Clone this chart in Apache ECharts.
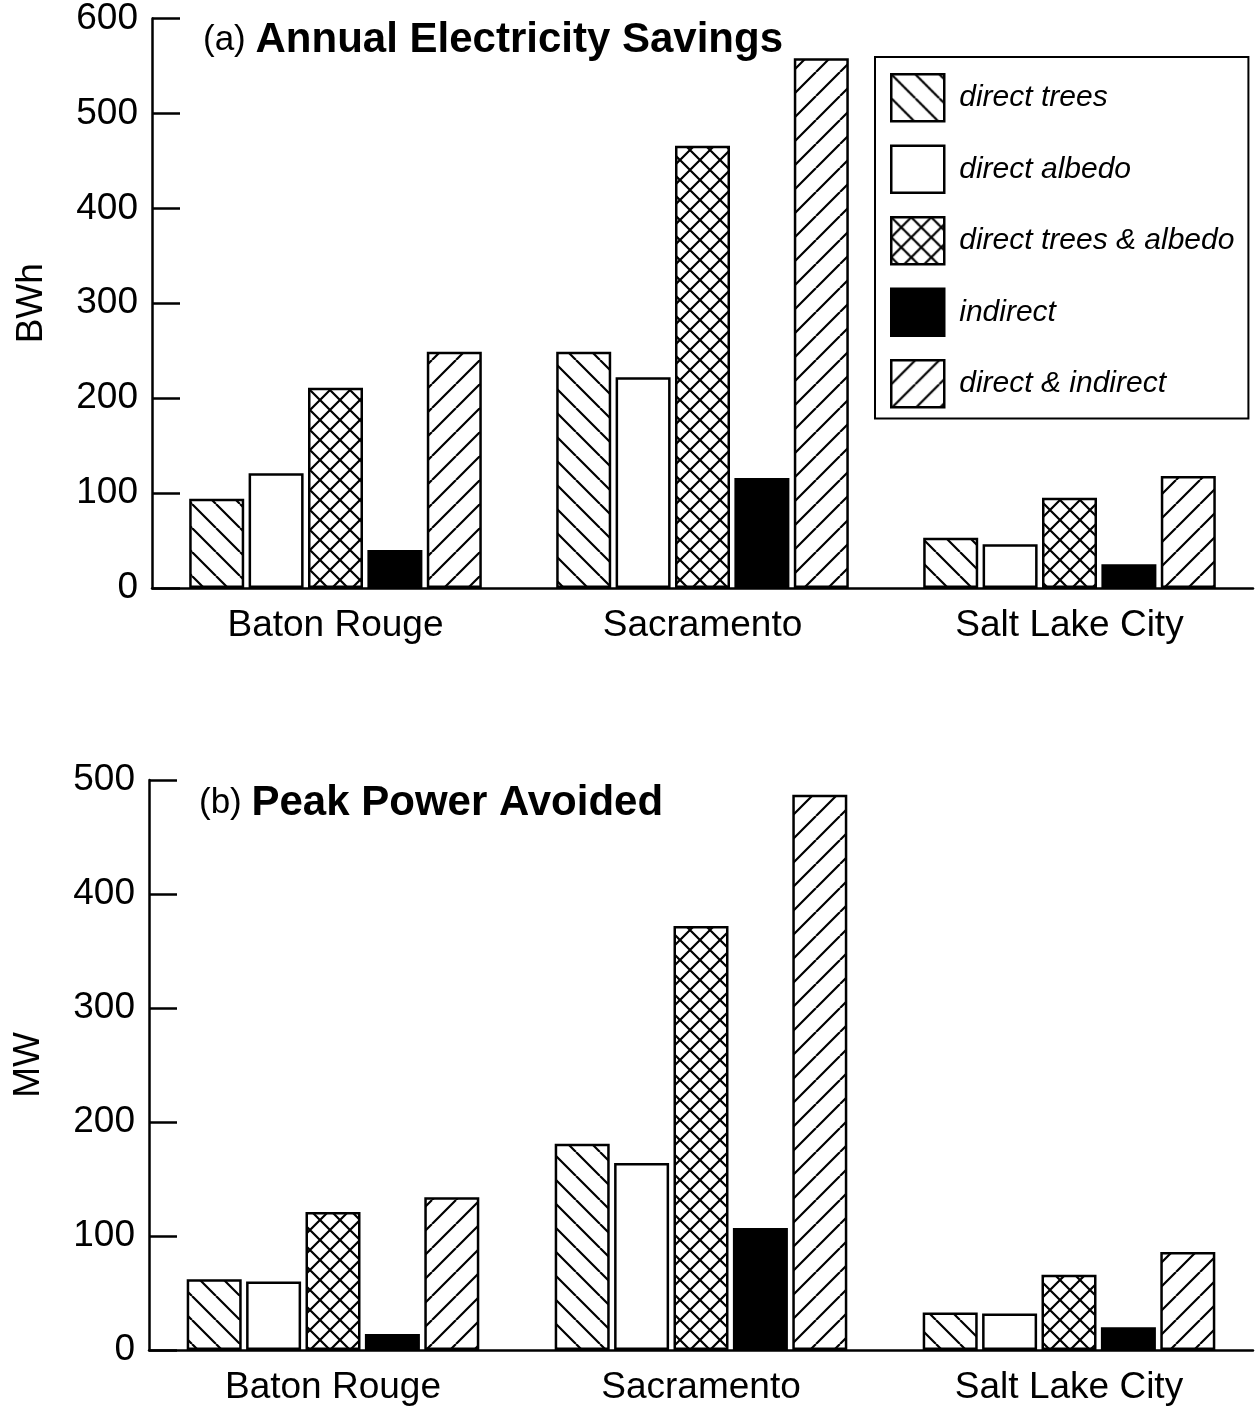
<!DOCTYPE html>
<html>
<head>
<meta charset="utf-8">
<script src="https://cdn.jsdelivr.net/npm/echarts@6/dist/echarts.min.js"></script>
<style>
html,body{margin:0;padding:0;background:#fff;}
#chart{width:1256px;height:1407px;}
</style>
</head>
<body>
<div id="chart"></div>
<script>
const categories = ['Baton Rouge', 'Sacramento', 'Salt Lake City'];
const seriesNames = ['direct trees', 'direct albedo', 'direct trees & albedo', 'indirect', 'direct & indirect'];

// (a) Annual Electricity Savings, BWh
const energyTrees = [94, 249, 53];
const energyAlbedo = [121, 222, 46];
const energyTreesAlbedo = [211, 466, 95];
const energyIndirect = [40, 116, 25];
const energyTotal = [249, 558, 118];

// (b) Peak Power Avoided, MW
const peakTrees = [62, 181, 33];
const peakAlbedo = [60, 164, 32];
const peakTreesAlbedo = [121, 372, 66];
const peakIndirect = [14, 107, 20];
const peakTotal = [134, 487, 86];

const energyAxis = { min: 0, max: 600, interval: 100, name: 'BWh' };
const peakAxis = { min: 0, max: 500, interval: 100, name: 'MW' };

function makePattern(kind) {
  const s = kind === 'cross' ? 20 : 24;
  const c = document.createElement('canvas');
  c.width = s; c.height = s;
  const g = c.getContext('2d');
  g.fillStyle = '#fff';
  g.fillRect(0, 0, s, s);
  g.strokeStyle = '#000';
  g.lineWidth = 2.2;
  g.beginPath();
  for (let k = -1; k <= 1; k++) {
    if (kind === 'back' || kind === 'cross') {
      g.moveTo(k * s, 0); g.lineTo(k * s + s, s);
    }
    if (kind === 'fwd' || kind === 'cross') {
      g.moveTo(k * s, s); g.lineTo(k * s + s, 0);
    }
  }
  g.stroke();
  return { image: c, repeat: 'repeat' };
}

const fills = [makePattern('back'), '#ffffff', makePattern('cross'), '#000000', makePattern('fwd')];
const energyData = [energyTrees, energyAlbedo, energyTreesAlbedo, energyIndirect, energyTotal];
const peakData = [peakTrees, peakAlbedo, peakTreesAlbedo, peakIndirect, peakTotal];

const FONT = "'Liberation Sans', Arial, Helvetica, sans-serif";

function xAxisFor(gi) {
  return {
    type: 'category', gridIndex: gi, data: categories,
    axisLine: { lineStyle: { color: '#000', width: 2.5 } },
    axisTick: { inside: true, length: 15, lineStyle: { color: '#000', width: 2.5 } },
    axisLabel: { color: '#000', fontSize: 37, fontFamily: FONT, margin: 19 }
  };
}
function yAxisFor(gi, ax) {
  return {
    type: 'value', gridIndex: gi, min: ax.min, max: ax.max, interval: ax.interval,
    name: ax.name, nameLocation: 'middle', nameGap: 102, nameRotate: 90,
    nameTextStyle: { color: '#000', fontSize: 37, fontFamily: FONT },
    axisLine: { show: true, lineStyle: { color: '#000', width: 2.5 } },
    axisTick: { show: true, inside: true, length: 28, lineStyle: { color: '#000', width: 2.5 } },
    axisLabel: { color: '#000', fontSize: 37, fontFamily: FONT, margin: 14, padding: [10, 0, 0, 0] },
    splitLine: { show: false }
  };
}

const series = [];
[energyData, peakData].forEach((set, gi) => {
  set.forEach((vals, i) => {
    series.push({
      type: 'bar', name: seriesNames[i], xAxisIndex: gi, yAxisIndex: gi,
      data: vals, barWidth: 55, barGap: '8%',
      itemStyle: { color: fills[i], borderColor: '#000', borderWidth: 2.5 },
      emphasis: { disabled: true },
      animation: false
    });
  });
});

const titleRich = {
  a: { fontSize: 35, fontWeight: 'normal', fontFamily: FONT, color: '#000' },
  b: { fontSize: 42, fontWeight: 'bold', fontFamily: FONT, color: '#000' }
};

const chart = echarts.init(document.getElementById('chart'), null, { renderer: 'canvas' });
chart.setOption({
  backgroundColor: '#fff',
  animation: false,
  title: [
    { text: '{a|(a) }{b|Annual Electricity Savings}', left: 198, top: 14, textStyle: { rich: titleRich } },
    { text: '{a|(b) }{b|Peak Power Avoided}', left: 194, top: 777, textStyle: { rich: titleRich } }
  ],
  legend: {
    data: seriesNames, orient: 'vertical', left: 875, top: 57,
    icon: 'rect', itemWidth: 53, itemHeight: 47, itemGap: 22,
    padding: [16, 14, 10, 15],
    borderColor: '#000', borderWidth: 2,
    selectedMode: false,
    itemStyle: { borderColor: '#000', borderWidth: 2.5 },
    textStyle: { color: '#000', fontSize: 30, fontStyle: 'italic', fontFamily: FONT, padding: [0, 0, 0, 10] }
  },
  grid: [
    { left: 152, top: 17, width: 1101, height: 571 },
    { left: 149, top: 780, width: 1104, height: 570 }
  ],
  xAxis: [xAxisFor(0), xAxisFor(1)],
  yAxis: [yAxisFor(0, energyAxis), yAxisFor(1, peakAxis)],
  series: series
});
</script>
</body>
</html>
